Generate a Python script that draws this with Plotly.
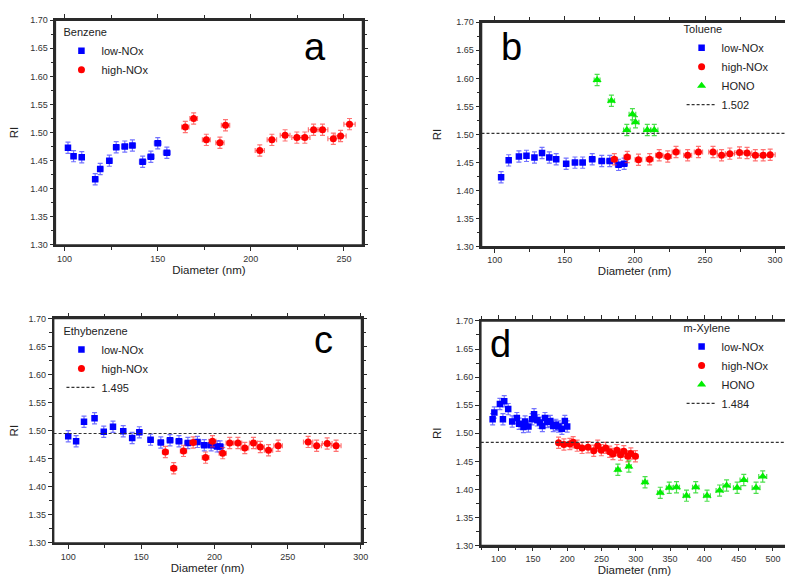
import plotly.graph_objects as go

# panel a - Benzene
a_low_d = [101.8, 104.8, 109.2, 116.4, 119.1, 124.0, 127.7, 132.3, 136.4, 141.9, 146.3, 150.0, 154.9]
a_low_ri = [1.473, 1.458, 1.456, 1.417, 1.435, 1.450, 1.474, 1.475, 1.477, 1.448, 1.457, 1.481, 1.464]
a_high_d = [164.8, 169.3, 176.1, 183.4, 186.4, 204.8, 211.3, 218.4, 224.7, 229.0, 233.7, 238.5, 244.3, 248.2, 253.0]
a_high_ri = [1.510, 1.525, 1.487, 1.482, 1.513, 1.468, 1.487, 1.495, 1.491, 1.491, 1.505, 1.505, 1.489, 1.494, 1.515]

# panel b - Toluene
b_low_d = [104.5, 109.9, 117.2, 122.6, 128.3, 133.7, 138.9, 143.8, 150.9, 157.2, 162.7, 169.5, 176.3, 182.0, 188.3, 192.3]
b_low_ri = [1.424, 1.454, 1.461, 1.462, 1.459, 1.467, 1.459, 1.456, 1.448, 1.450, 1.450, 1.456, 1.453, 1.453, 1.446, 1.448]
b_high_d = [185.3, 194.5, 202.5, 210.5, 217.3, 223.4, 229.3, 237.6, 245.3, 255.7, 261.8, 267.7, 274.6, 280.0, 285.9, 291.5, 296.5]
b_high_ri = [1.456, 1.460, 1.455, 1.456, 1.463, 1.461, 1.469, 1.463, 1.469, 1.469, 1.463, 1.466, 1.468, 1.467, 1.463, 1.463, 1.464]
b_hono_d = [173.0, 183.2, 194.2, 198.2, 200.4, 208.8, 213.8]
b_hono_ri = [1.597, 1.560, 1.508, 1.536, 1.522, 1.508, 1.508]
b_ref = 1.502

# panel c - Ethybenzene
c_low_d = [100.0, 105.4, 110.8, 118.0, 124.3, 130.6, 137.6, 143.7, 148.6, 156.3, 163.3, 169.6, 175.7, 181.8, 188.3, 193.0, 197.7, 201.8, 203.8]
c_low_ri = [1.490, 1.481, 1.516, 1.522, 1.498, 1.507, 1.499, 1.487, 1.497, 1.484, 1.479, 1.483, 1.481, 1.478, 1.480, 1.474, 1.474, 1.472, 1.472]
c_high_d = [166.4, 172.1, 178.8, 185.4, 193.9, 198.6, 205.6, 210.4, 216.0, 220.7, 226.6, 231.3, 236.9, 243.5, 264.0, 269.8, 277.0, 283.1]
c_high_ri = [1.462, 1.433, 1.464, 1.479, 1.452, 1.481, 1.460, 1.478, 1.478, 1.469, 1.478, 1.471, 1.465, 1.473, 1.480, 1.473, 1.477, 1.473]
c_ref = 1.495

# panel d - m-Xylene
d_low_d = [91.3, 93.8, 101.9, 106.3, 108.2, 114.0, 119.8, 126.6, 129.9, 136.2, 138.6, 143.5, 148.8, 151.7,
           156.5, 160.4, 163.8, 167.6, 171.0, 175.4, 179.7, 183.6, 187.4, 192.3, 196.6, 200.0]
d_low_ri = [1.525, 1.537, 1.552, 1.525, 1.557, 1.543, 1.521, 1.527, 1.517, 1.511, 1.521, 1.512, 1.525, 1.534,
            1.523, 1.519, 1.513, 1.527, 1.520, 1.522, 1.513, 1.515, 1.512, 1.508, 1.522, 1.512]
d_high_d = [187.4, 195.2, 203.9, 208.7, 214.5, 221.7, 230.4, 238.7, 244.5, 249.8, 256.1, 261.9, 266.7, 272.5,
            277.8, 282.6, 288.4, 292.8, 299.5]
d_high_ri = [1.483, 1.480, 1.481, 1.484, 1.478, 1.474, 1.475, 1.469, 1.478, 1.470, 1.474, 1.467, 1.463, 1.470,
             1.462, 1.468, 1.459, 1.464, 1.459]
d_hono_d = [273.9, 289.9, 313.5, 335.7, 348.8, 359.4, 373.9, 387.4, 403.9, 422.2, 432.4, 447.8, 457.5, 475.4, 485.1]
d_hono_ri = [1.435, 1.441, 1.413, 1.394, 1.403, 1.404, 1.389, 1.404, 1.389, 1.398, 1.407, 1.403, 1.417, 1.403, 1.423]
d_ref = 1.484

RI_ERR = 0.01      # vertical error bar
D_ERR_PCT = 1.2    # horizontal error bar, % of diameter

FONT = 'Arial, Liberation Sans, sans-serif'
AX = '#2a2a2a'
DASH = '3px,2px'

styles = {
    'low-NOx': dict(symbol='square', color='#0000ff', size=6.5, err='rgba(40,40,255,0.65)'),
    'high-NOx': dict(symbol='circle', color='#ff0000', size=7, err='rgba(255,40,40,0.65)'),
    'HONO': dict(symbol='triangle-up', color='#00ee00', size=8, err='rgba(0,210,0,0.7)'),
}

panels = [
    dict(name='Benzene', series=[('low-NOx', a_low_d, a_low_ri), ('high-NOx', a_high_d, a_high_ri)],
         ref=None, xr=[95, 260], xd=[0.0602, 0.4511], yd=[0.5931, 0.9874],
         leg=(0.068, 0.9845), letter='a', lpos=(0.390, 0.9397)),
    dict(name='Toluene', series=[('low-NOx', b_low_d, b_low_ri), ('high-NOx', b_high_d, b_high_ri),
                                 ('HONO', b_hono_d, b_hono_ri)],
         ref=b_ref, xr=[90.5, 309], xd=[0.6024, 0.9920], yd=[0.5897, 0.9839],
         leg=(0.857, 0.9897), letter='b', lpos=(0.641, 0.9405)),
    dict(name='Ethybenzene', series=[('low-NOx', c_low_d, c_low_ri), ('high-NOx', c_high_d, c_high_ri)],
         ref=c_ref, xr=[90, 300.5], xd=[0.0580, 0.4498], yd=[0.0702, 0.4643],
         leg=(0.068, 0.4603), letter='c', lpos=(0.401, 0.4264)),
    dict(name='m-Xylene', series=[('low-NOx', d_low_d, d_low_ri), ('high-NOx', d_high_d, d_high_ri),
                                  ('HONO', d_hono_d, d_hono_ri)],
         ref=d_ref, xr=[74, 522], xd=[0.6015, 0.9924], yd=[0.0655, 0.4598],
         leg=(0.857, 0.4655), letter='d', lpos=(0.626, 0.419)),
]

fig = go.Figure()
layout = dict(width=793, height=580, margin=dict(l=0, r=0, t=0, b=0),
              plot_bgcolor='white', paper_bgcolor='white', font=dict(family=FONT, color='#222'),
              showlegend=True, annotations=[], shapes=[])

for i, p in enumerate(panels, start=1):
    sx = '' if i == 1 else str(i)
    leg = 'legend' if i == 1 else 'legend%d' % i
    for label, d, ri in p['series']:
        st = styles[label]
        fig.add_trace(go.Scatter(
            x=d, y=ri, mode='markers', name=label, legend=leg,
            xaxis='x' + sx, yaxis='y' + sx,
            marker=dict(symbol=st['symbol'], color=st['color'], size=st['size'], line=dict(width=0)),
            error_y=dict(type='constant', value=RI_ERR, color=st['err'], thickness=1.2, width=2.5),
            error_x=dict(type='percent', value=D_ERR_PCT, color=st['err'], thickness=1.2, width=2.5),
        ))
    if p['ref'] is not None:
        # legend entry for the dashed reference line
        fig.add_trace(go.Scatter(x=[None], y=[None], mode='lines', name='%.3f' % p['ref'], legend=leg,
                                 xaxis='x' + sx, yaxis='y' + sx,
                                 line=dict(color='#333', dash=DASH, width=1.2)))
        layout['shapes'].append(dict(type='line', xref='x%s domain' % sx, yref='y' + sx,
                                     x0=0, x1=1, y0=p['ref'], y1=p['ref'],
                                     line=dict(color='#333', dash=DASH, width=1.2)))
    # box frame around the panel
    layout['shapes'].append(dict(type='rect', xref='x%s domain' % sx, yref='y%s domain' % sx,
                                 x0=0, x1=1, y0=0, y1=1, layer='above',
                                 line=dict(color=AX, width=1.6)))

    common = dict(showline=True, linecolor=AX, linewidth=1.6, showgrid=False, zeroline=False,
                  mirror='ticks', tickcolor=AX, ticklen=4, tickwidth=1, tickfont=dict(size=9, color='#333'))
    layout['xaxis' + sx] = dict(common, domain=p['xd'], range=p['xr'], anchor='y' + sx, dtick=50,
                                ticks='outside',
                                minor=dict(dtick=25, ticks='outside', ticklen=3, tickcolor=AX),
                                title=dict(text='Diameter (nm)', font=dict(size=11.5, color='#222'), standoff=0))
    layout['yaxis' + sx] = dict(common, domain=p['yd'], range=[1.30, 1.70], anchor='x' + sx, dtick=0.05,
                                tickformat='.2f', ticks='outside',
                                minor=dict(dtick=0.025, ticks='outside', ticklen=3, tickcolor=AX),
                                title=dict(text='RI', font=dict(size=11.5, color='#222'), standoff=12))

    layout[leg] = dict(x=p['leg'][0], y=p['leg'][1], xanchor='left', yanchor='top',
                       bgcolor='rgba(0,0,0,0)', borderwidth=0,
                       font=dict(size=11, color='#222'),
                       title=dict(text=p['name'], font=dict(size=11, color='#222')))
    layout['annotations'].append(dict(text=p['letter'], xref='paper', yref='paper',
                                      x=p['lpos'][0], y=p['lpos'][1], xanchor='center', yanchor='middle',
                                      showarrow=False, font=dict(size=38, color='black')))

fig.update_layout(**layout)
fig.write_html("out.html")
